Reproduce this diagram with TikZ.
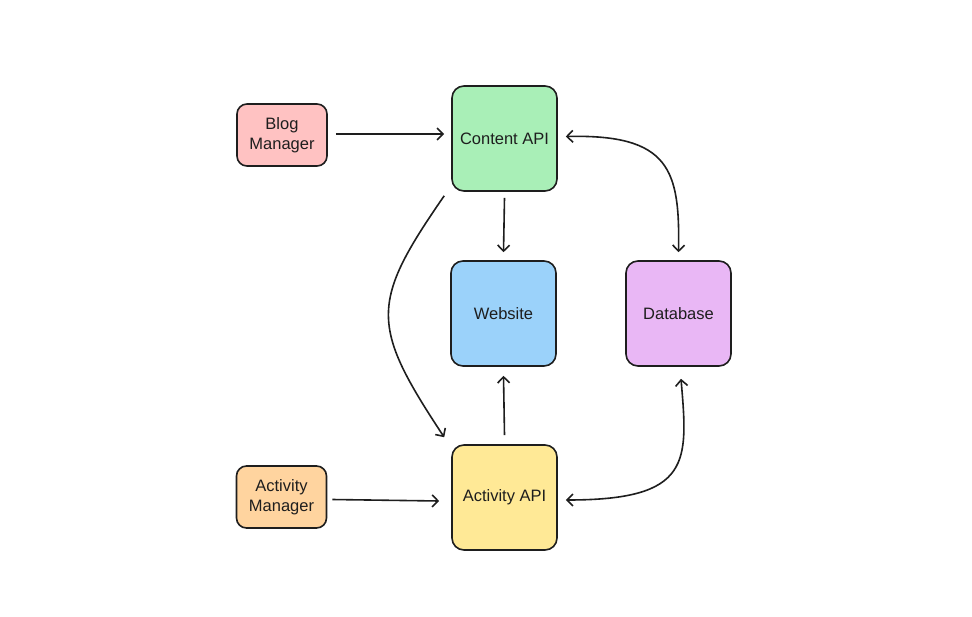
\documentclass[tikz,border=0pt]{standalone}
\usepackage{fontspec}
\setmainfont{Liberation Sans}
\usetikzlibrary{arrows.meta}
\definecolor{ink}{HTML}{1E1E1E}
\definecolor{cpink}{HTML}{FFC2C2}
\definecolor{cgreen}{HTML}{A9EFB7}
\definecolor{cblue}{HTML}{9BD2FA}
\definecolor{cpurple}{HTML}{E9B7F5}
\definecolor{cyellow}{HTML}{FFE996}
\definecolor{corange}{HTML}{FFD49F}
\tikzset{
  box/.style={draw=ink, line width=1.6pt, rounded corners=12pt, minimum width=105pt, minimum height=105pt, align=center, text=ink, font=\fontsize{16.5}{19.5}\selectfont, inner sep=0pt},
  smallbox/.style={box, rounded corners=10pt, minimum width=90pt, minimum height=62pt},
  conn/.style={draw=ink, line width=1.6pt, -{Straight Barb[length=6pt,width=12pt,line width=1.6pt]}},
  bconn/.style={draw=ink, line width=1.6pt, {Straight Barb[length=6pt,width=12pt,line width=1.6pt]}-{Straight Barb[length=6pt,width=12pt,line width=1.6pt]}}
}
\begin{document}
\begin{tikzpicture}[x=1pt,y=-1pt]
\useasboundingbox[fill=white] (0,0) rectangle (972,616);
\node[smallbox, fill=cpink] (blog) at (282,135) {Blog\\Manager};
\node[box, fill=cgreen] (content) at (504.5,138.5) {Content API};
\node[box, fill=cblue] (web) at (503.5,313.5) {Website};
\node[box, fill=cpurple] (db) at (678.5,313.5) {Database};
\node[box, fill=cyellow] (act) at (504.5,497.5) {Activity API};
\node[smallbox, fill=corange] (am) at (281.5,497) {Activity\\Manager};

\draw[conn] ([shift={(8pt,1pt)}]blog.east) -- ([shift={(-7pt,4.5pt)}]content.west);
\draw[conn] ([yshift=-6pt]content.south) -- ([yshift=8pt]web.north);
\draw[conn] ([shift={(-7pt,-4pt)}]content.south west) .. controls (370,303) and (370,325) .. ([shift={(-7pt,7pt)}]act.north west);
\draw[bconn] ([shift={(8pt,2pt)}]content.east) .. controls (670,134) and (680,170) .. ([yshift=8pt]db.north);
\draw[conn] ([yshift=9pt]act.north) -- ([yshift=-9pt]web.south);
\draw[conn] ([shift={(5pt,-2.5pt)}]am.east) -- ([shift={(-12pt,-3.5pt)}]act.west);
\draw[bconn] ([shift={(2.5pt,-12pt)}]db.south) .. controls (688,462) and (692,500) .. ([shift={(8pt,-2.5pt)}]act.east);
\end{tikzpicture}
\end{document}
